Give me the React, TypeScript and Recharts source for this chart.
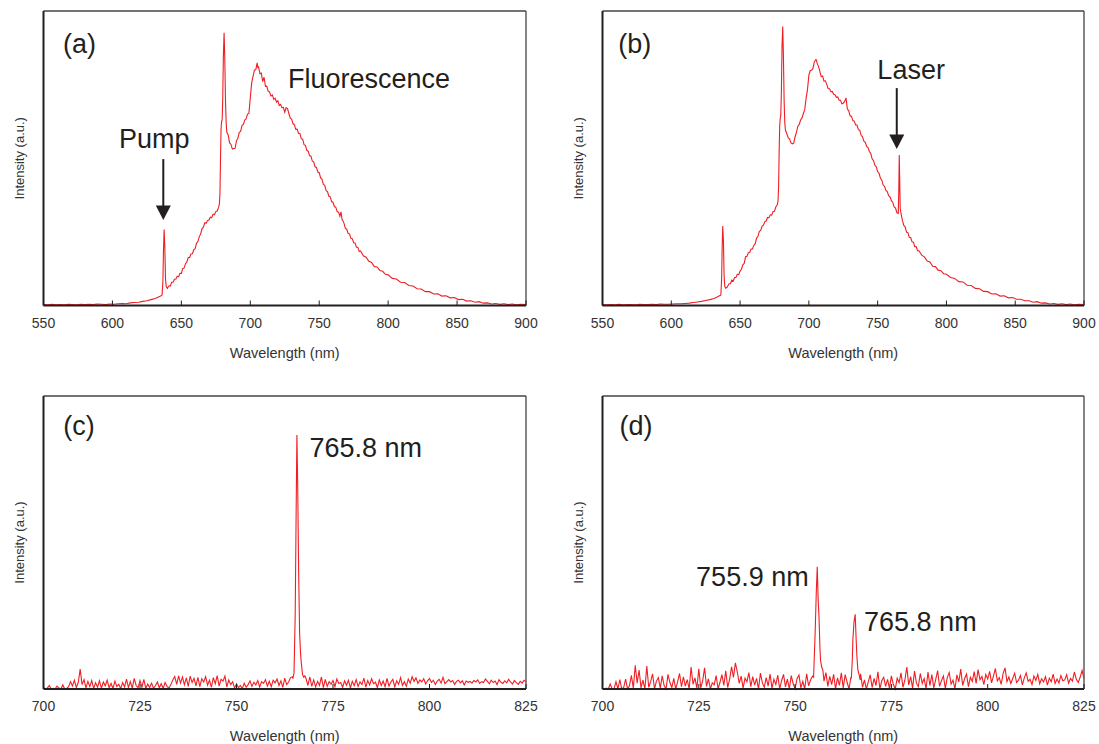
import React from 'react';
import { LineChart, Line, XAxis, YAxis, ReferenceDot, ReferenceLine } from 'recharts';

// tick labels
const TICKS_WIDE = [550, 600, 650, 700, 750, 800, 850, 900];
const TICKS_NARROW = [700, 725, 750, 775, 800, 825];

// (a) full spectrum, pump + fluorescence  [wavelength nm, intensity %]
const SPEC_A: [number, number][] = [
  [550, 0.3], [553, 0.2], [556, 0.4], [559, 0.2], [562, 0.3], [565, 0.2], [568, 0.4], [571, 0.3],
  [574, 0.2], [577, 0.4], [580, 0.3], [583, 0.4], [586, 0.3], [589, 0.5], [592, 0.4], [595, 0.3],
  [598, 0.5], [601, 0.4], [604, 0.6], [607, 0.7], [610, 0.6], [613, 0.9], [616, 1.0], [619, 1.1],
  [622, 1.4], [625, 1.6], [628, 2.0], [631, 2.4], [633, 2.8], [635, 3.2], [636, 3.6], [636.6, 8],
  [637.0, 18], [637.5, 25.8], [638.0, 20], [638.5, 9], [639.0, 6.5], [639.8, 5.8], [641, 6.7], [642, 6.6],
  [643, 7.9], [644, 7.9], [645, 8.9], [646, 9.0], [647, 9.9], [648, 9.8], [649, 10.9], [650, 10.9],
  [651, 12.6], [652, 12.7], [653, 14.2], [654, 14.8], [655, 16.3], [656, 16.3], [657, 17.5], [658, 17.6],
  [659, 18.9], [660, 19.3], [661, 21.1], [662, 21.7], [663, 23.4], [664, 24.3], [665, 26.1], [666, 26.6],
  [667, 28.1], [668, 27.9], [669, 28.9], [670, 29.0], [671, 30.0], [672, 29.8], [673, 31.0], [674, 30.8],
  [675, 31.9], [676, 32.1], [677, 33.3], [677.6, 34.5], [678.0, 38], [678.4, 50], [678.8, 60], [679.2, 62.5],
  [679.6, 63], [680.0, 70], [680.5, 85], [681.0, 92.6], [681.5, 84], [682.0, 70], [682.5, 62], [683.0, 58.8],
  [684, 57.8], [685, 55.2], [686, 54.7], [687, 53.1], [688, 53.3], [689, 53.4], [690, 56.0], [691, 56.8],
  [692, 58.8], [693, 59.1], [694, 61.2], [695, 61.5], [696, 63.0], [697, 63.4], [698, 65.0], [699, 65.2],
  [700, 70.5], [701, 75.6], [702, 77.8], [703, 79.9], [704, 80.1], [705, 82.4], [705.5, 80.8], [706, 81.0],
  [707, 78.7], [708, 78.9], [709, 76.0], [710, 77.5], [711, 74.4], [712, 74.5], [713, 72.7], [714, 72.5],
  [715, 71.1], [716, 71.5], [717, 70.0], [718, 70.4], [719, 69.1], [720, 69.5], [721, 67.9], [722, 68.3],
  [723, 67.1], [724, 67.3], [725, 65.6], [726, 67.2], [727, 66.9], [728, 65.2], [729, 63.6], [730, 63.3],
  [731, 61.7], [732, 61.4], [733, 59.8], [734, 59.9], [735, 58.4], [736, 58.4], [737, 56.6], [738, 56.5],
  [739, 54.6], [740, 54.4], [741, 52.7], [742, 52.4], [743, 50.9], [744, 50.7], [745, 49.0], [746, 48.8],
  [747, 47.1], [748, 46.9], [749, 45.3], [750, 45.1], [751, 43.3], [752, 42.9], [753, 41.1], [754, 40.8],
  [755, 39.0], [756, 38.7], [757, 37.1], [758, 36.9], [759, 35.3], [760, 35.0], [761, 33.6], [762, 33.4],
  [763, 31.9], [764, 31.7], [765, 30.3], [765.8, 31.8], [766.6, 29.1], [767, 28.9], [768, 27.9], [769, 26.2],
  [770, 25.9], [771, 24.4], [772, 24.3], [773, 22.8], [774, 22.7], [775, 21.3], [776, 21.2], [777, 19.8],
  [778, 19.8], [779, 18.3], [780, 18.5], [782, 16.9], [784, 16.4], [786, 15.0], [788, 14.6], [790, 13.2],
  [792, 13.1], [794, 11.9], [796, 11.6], [798, 10.6], [800, 10.4], [803, 9.2], [806, 9.0], [809, 7.9],
  [812, 7.8], [815, 6.8], [818, 6.6], [821, 5.7], [824, 5.6], [827, 4.7], [830, 4.7], [833, 3.9],
  [836, 4.0], [839, 3.2], [842, 3.3], [845, 2.6], [848, 2.7], [851, 2.0], [854, 2.1], [857, 1.5],
  [860, 1.6], [863, 1.1], [866, 1.3], [869, 0.8], [872, 0.9], [875, 0.5], [878, 0.7], [881, 0.4],
  [884, 0.6], [887, 0.3], [890, 0.5], [893, 0.2], [896, 0.4], [900, 0.3],
];

// (b) full spectrum with laser line
const SPEC_B: [number, number][] = [
  [550, 0.3], [553, 0.2], [556, 0.3], [559, 0.2], [562, 0.4], [565, 0.2], [568, 0.3], [571, 0.3],
  [574, 0.2], [577, 0.4], [580, 0.3], [583, 0.3], [586, 0.4], [589, 0.3], [592, 0.5], [595, 0.4],
  [598, 0.4], [601, 0.5], [604, 0.6], [607, 0.6], [610, 0.7], [613, 0.8], [616, 1.0], [619, 1.2],
  [622, 1.4], [625, 1.7], [628, 2.0], [631, 2.4], [633, 2.8], [635, 3.3], [636, 3.5], [636.6, 9],
  [637.0, 20], [637.4, 27], [637.9, 22], [638.4, 10], [638.9, 6.5], [639.5, 5.9], [640.5, 6.2], [642, 7.4],
  [643, 7.4], [644, 8.6], [645, 8.3], [646, 9.5], [647, 9.5], [648, 10.6], [649, 10.5], [650, 11.7],
  [651, 12.3], [652, 13.8], [653, 14.3], [654, 16.6], [655, 16.7], [656, 17.9], [657, 18.0], [658, 19.2],
  [659, 19.2], [660, 20.4], [661, 21.0], [662, 22.9], [663, 23.5], [664, 25.2], [665, 25.5], [666, 27.0],
  [667, 27.3], [668, 28.5], [669, 28.7], [670, 29.9], [671, 29.8], [672, 30.8], [673, 30.7], [674, 31.9],
  [675, 32.0], [676, 33.5], [677, 34.1], [677.6, 35.5], [678.0, 40], [678.4, 52], [678.8, 61], [679.2, 63.5],
  [679.6, 64.8], [680.0, 72], [680.5, 88], [681.0, 94.7], [681.5, 85], [682.0, 70], [682.5, 62], [683.0, 59.5],
  [684, 58.3], [685, 56.9], [686, 56.6], [687, 55.2], [688, 54.9], [689, 55.1], [690, 57.3], [691, 58.9],
  [692, 60.9], [693, 61.5], [694, 63.0], [695, 63.7], [696, 65.2], [697, 66.5], [698, 70.4], [699, 73.2],
  [700, 78.2], [701, 79.8], [702, 79.9], [703, 80.5], [704, 82.7], [705, 83.5], [705.5, 83.4], [706, 82.3],
  [707, 81.2], [708, 79.5], [709, 77.7], [710, 77.9], [711, 76.2], [712, 76.3], [713, 75.1], [714, 73.7],
  [715, 73.6], [716, 72.6], [717, 72.7], [718, 71.7], [719, 71.6], [720, 70.7], [721, 70.8], [722, 69.7],
  [723, 69.7], [724, 68.5], [725, 68.7], [726, 69.3], [727, 70.5], [728, 66.7], [729, 66.1], [730, 64.4],
  [731, 64.2], [732, 62.8], [733, 62.6], [734, 61.3], [735, 61.3], [736, 59.7], [737, 59.5], [738, 57.8],
  [739, 57.3], [740, 55.8], [741, 55.4], [742, 54.0], [743, 53.6], [744, 52.3], [745, 51.6], [746, 49.8],
  [747, 49.2], [748, 47.6], [749, 47.1], [750, 45.5], [751, 44.9], [752, 43.3], [753, 42.6], [754, 40.9],
  [755, 40.5], [756, 39.1], [757, 38.7], [758, 37.3], [759, 36.9], [760, 35.6], [761, 35.0], [762, 33.5],
  [763, 33.1], [764, 31.5], [765.0, 31.3], [765.4, 40], [765.7, 51.1], [766.0, 44], [766.4, 33], [767, 31.2],
  [768, 28.9], [769, 27.2], [770, 26.7], [771, 24.9], [772, 24.7], [773, 23.2], [774, 23.1], [775, 21.6],
  [776, 21.5], [777, 20.0], [778, 20.0], [779, 18.6], [780, 18.6], [782, 17.1], [784, 16.5], [786, 15.1],
  [788, 14.8], [790, 13.3], [792, 13.2], [794, 12.0], [796, 11.8], [798, 10.8], [800, 10.6], [803, 9.5],
  [806, 9.2], [809, 8.1], [812, 8.0], [815, 6.9], [818, 6.8], [821, 5.8], [824, 5.7], [827, 4.8],
  [830, 4.7], [833, 3.9], [836, 4.0], [839, 3.2], [842, 3.3], [845, 2.6], [848, 2.7], [851, 2.1],
  [854, 2.1], [857, 1.6], [860, 1.6], [863, 1.1], [866, 1.3], [869, 0.8], [872, 0.9], [875, 0.5],
  [878, 0.7], [881, 0.4], [884, 0.6], [887, 0.3], [890, 0.5], [893, 0.2], [896, 0.4], [900, 0.3],
];

// (c), (d): noise sampled every 0.5 nm from 700 nm; null where a peak is listed separately
const GRID_START = 700;
const GRID_STEP = 0.5;

const NOISE_C: (number | null)[] = [
  0.5, 0, 0.3, 1.2, 0, 0.2, 0, 1.0, 0.3, 0,
  1.4, 0, 0.2, 0.8, 2.5, 1.0, 3.0, 0.5, 2.2, 6.8,
  1.5, 3.2, 0.4, 2.6, 0.8, 2.9, 0.2, 2.1, 0.6, 2.8,
  0.3, 2.4, 1.1, 3.0, 0.4, 1.9, 0.2, 2.7, 0.9, 1.6,
  0.1, 2.2, 0.7, 3.4, 0.5, 2.5, 0.3, 3.6, 1.2, 0.4,
  2.9, 0.6, 3.3, 0.2, 1.7, 0.5, 2.0, 0.3, 1.1, 2.4,
  0.4, 1.8, 0.2, 2.2, 0.9, 0.3, 1.5, 3.1, 4.3, 1.6,
  4.5, 2.0, 4.1, 1.4, 3.8, 0.9, 4.4, 2.2, 3.6, 1.1,
  4.0, 0.8, 3.5, 2.4, 4.2, 1.3, 3.0, 0.6, 3.9, 1.8,
  4.6, 1.0, 3.3, 2.7, 4.4, 0.7, 3.1, 1.5, 2.5, 0.3,
  1.8, 0.4, 1.2, 0.1, 2.0, 0.6, 1.5, 2.8, 0.9, 2.3,
  1.4, 2.9, 0.7, 2.5, 1.9, 3.2, 1.0, 2.6, 0.8, 3.0,
  2.1, 3.4, 1.2, 2.8, 0.6, 3.7, 1.5, 2.4, 3.9, 4.2,
  null, null, null, null, null, null, 3.6, 1.2, 4.1, 0.9,
  3.1, 0.7, 2.6, 1.2, 4.1, 0.5, 3.3, 0.9, 2.5, 1.6,
  2.9, 0.8, 3.4, 1.9, 2.2, 0.6, 2.8, 1.3, 3.0, 0.4,
  2.6, 1.1, 3.2, 0.9, 2.4, 1.5, 3.7, 0.6, 2.9, 1.4,
  3.5, 1.8, 2.3, 0.5, 3.1, 1.2, 2.7, 0.8, 3.6, 1.0,
  2.4, 3.3, 0.7, 2.8, 1.6, 3.9, 1.2, 2.5, 0.9, 3.4,
  2.0, 4.2, 2.6, 3.8, 1.9, 3.1, 2.4, 3.5, 1.7, 2.8,
  3.6, 2.2, 3.0, 1.5, 2.7, 3.3, 2.0, 4.0, 1.8, 2.5,
  3.2, 2.4, 2.9, 1.6, 2.6, 3.0, 2.1, 2.8, 1.4, 2.7,
  2.3, 2.6, 2.0, 2.9, 2.4, 3.1, 1.9, 2.5, 2.2, 3.4,
  2.6, 1.8, 3.0, 2.2, 2.7, 1.5, 3.2, 2.3, 1.9, 2.8,
  2.1, 3.3, 2.4, 1.7, 2.9, 2.2, 1.6, 2.6, 2.0, 3.0,
  2.5,
];

const PEAK_C: [number, number][] = [
  [764.6, 3.5], [764.9, 5.5], [765.2, 24.7], [765.45, 60], [765.65, 86.7], [765.85, 70], [766.1, 40],
  [766.35, 19], [766.6, 12], [766.8, 8.8], [767.1, 5], [767.4, 4.0], [767.7, 4.5],
];

const NOISE_D: (number | null)[] = [
  0, 0, 0.3, 0, 1.7, 0, 0, 2.5, 0, 3.2,
  0, 0.5, 3.4, 0, 1.1, 4.7, 0.2, 8.1, 2.0, 6.5,
  0.4, 3.0, 0, 7.8, 0.6, 2.5, 5.2, 0, 2.7, 3.9,
  0.3, 4.5, 1.2, 0, 5.0, 2.2, 0.5, 3.6, 0, 2.4,
  5.3, 0.8, 4.1, 1.0, 3.2, 0, 7.5, 1.6, 3.8, 0.2,
  6.9, 0.4, 2.8, 7.2, 0.9, 3.5, 0, 2.1, 1.4, 4.6,
  0, 2.3, 4.9, 1.2, 6.2, 0.5, 3.3, 7.6, 4.0, 8.9,
  5.8, 1.9, 4.4, 0.3, 3.7, 2.5, 5.6, 0.8, 4.2, 1.3,
  3.6, 0, 5.4, 2.1, 0.6, 3.9, 1.0, 5.1, 0.2, 3.3,
  1.5, 4.7, 0, 2.9, 5.0, 0.7, 3.4, 0, 4.6, 1.8,
  0, 3.5, 4.8, 0.4, 2.6, 0, 5.2, 1.1, 3.0, 4.4,
  null, null, null, null, null, 2.7, 5.6, 0.9, 4.3, 1.5,
  5.0, 0, 3.8, 1.2, 5.5, 0.4, 4.9, 2.3, 0, 4.1,
  null, null, null, null, 5.2, 0.6, 3.1, 0, 2.4, 4.8,
  0.5, 3.6, 1.2, 5.9, 0, 2.8, 4.0, 0.9, 3.3, 0.2,
  4.5, 1.6, 0, 3.7, 2.2, 5.5, 0.6, 3.0, 7.5, 1.4,
  4.2, 0.3, 6.1, 2.0, 0.8, 5.3, 1.9, 3.6, 0, 5.8,
  1.1, 4.9, 0.4, 3.2, 6.3, 0.9, 2.8, 4.4, 0.2, 3.9,
  5.6, 1.7, 3.0, 0, 4.8, 2.4, 6.8, 1.2, 3.5, 5.1,
  0.8, 4.0, 2.6, 5.9, 1.9, 6.6, 3.2, 4.3, 1.5, 5.0,
  3.4, 6.0, 2.1, 4.5, 7.0, 2.8, 3.9, 1.6, 5.3, 7.2,
  2.5, 4.1, 1.9, 3.6, 5.4, 2.2, 3.0, 4.6, 1.4, 3.8,
  5.5, 2.6, 3.3, 1.5, 4.4, 2.9, 5.0, 1.8, 3.5, 2.4,
  4.2, 1.3, 3.7, 2.5, 5.1, 1.9, 3.4, 2.1, 4.6, 2.8,
  3.1, 4.9, 2.0, 3.6, 2.7, 5.8, 3.3, 2.2, 4.0, 6.3,
  3.5,
];

const PEAK_D1: [number, number][] = [
  [754.8, 4], [755.2, 19], [755.5, 33], [755.75, 41.7], [756.0, 30], [756.2, 24.7], [756.45, 14],
  [756.6, 9.9], [756.9, 7.5], [757.2, 6.5],
];
const PEAK_D2: [number, number][] = [
  [764.6, 3.5], [764.85, 10], [765.0, 16.9], [765.3, 23], [765.6, 25.5], [765.85, 16.9], [766.05, 11],
  [766.3, 6.5], [766.6, 5.0], [766.9, 3.1],
];

type Row = { x: number; y: number };

const fromPairs = (pairs: [number, number][]): Row[] => pairs.map(([x, y]) => ({ x, y }));

function withNoise(noise: (number | null)[], peaks: [number, number][]): Row[] {
  const rows: Row[] = [];
  noise.forEach((v, i) => {
    if (v !== null) rows.push({ x: GRID_START + i * GRID_STEP, y: v });
  });
  peaks.forEach(([x, y]) => rows.push({ x, y }));
  return rows.sort((a, b) => a.x - b.x);
}

const dataA = fromPairs(SPEC_A);
const dataB = fromPairs(SPEC_B);
const dataC = withNoise(NOISE_C, PEAK_C);
const dataD = withNoise(NOISE_D, [...PEAK_D1, ...PEAK_D2]);

const INK = '#231f20';
const RED = '#f01e23';

type Note = { x: number; y: number; text?: string; size?: number; arrow?: boolean };

const NOTES_A: Note[] = [
  { x: 564.1, y: 85.6, text: '(a)', size: 27 },
  { x: 727.4, y: 73.8, text: 'Fluorescence', size: 27 },
  { x: 604.8, y: 53.4, text: 'Pump', size: 27 },
  { x: 636.9, y: 29.0, arrow: true },
];
const NOTES_B: Note[] = [
  { x: 561.5, y: 85.6, text: '(b)', size: 27 },
  { x: 749.8, y: 76.8, text: 'Laser', size: 27 },
  { x: 763.9, y: 53.1, arrow: true },
];
const NOTES_C: Note[] = [
  { x: 705.1, y: 86.7, text: '(c)', size: 27 },
  { x: 768.9, y: 79.3, text: '765.8 nm', size: 27 },
];
const NOTES_D: Note[] = [
  { x: 704.4, y: 86.7, text: '(d)', size: 27 },
  { x: 724.3, y: 35.2, text: '755.9 nm', size: 27 },
  { x: 767.9, y: 19.9, text: '765.8 nm', size: 27 },
];

function noteShape(note: Note) {
  return (p: any) => {
    const { cx, cy } = p;
    if (note.arrow) {
      return (
        <g>
          <line x1={cx} y1={cy - 61} x2={cx} y2={cy - 13} stroke={INK} strokeWidth={2} />
          <polygon points={`${cx - 7.5},${cy - 14.5} ${cx + 7.5},${cy - 14.5} ${cx},${cy}`} fill={INK} />
        </g>
      );
    }
    return (
      <text x={cx} y={cy} fontSize={note.size} fill={INK}>
        {note.text}
      </text>
    );
  };
}

const yTitle = (props: any) => {
  const vb = props.viewBox;
  const cx = vb.x + 19;
  const cy = vb.y + vb.height / 2;
  return (
    <text x={cx} y={cy} transform={`rotate(-90 ${cx} ${cy})`} textAnchor="middle" dominantBaseline="central" fontSize={13} fill="#333">
      Intensity (a.u.)
    </text>
  );
};

type PanelProps = {
  left: number;
  top: number;
  height: number;
  right: number;
  bottom: number;
  data: Row[];
  domain: [number, number];
  ticks: number[];
  notes: Note[];
};

function Panel({ left, top, height, right, bottom, data, domain, ticks, notes }: PanelProps) {
  return (
    <div style={{ position: 'absolute', left, top }}>
      <LineChart width={540} height={height} data={data} margin={{ top: 11, right, left: 0, bottom }}>
        <XAxis
          dataKey="x"
          type="number"
          domain={domain}
          ticks={ticks}
          interval={0}
          height={30}
          tickSize={-5}
          tickMargin={17.5}
          axisLine={{ stroke: INK, strokeWidth: 2 }}
          tickLine={{ stroke: INK, strokeWidth: 1 }}
          tick={{ fill: '#333', fontSize: 14 }}
          label={{ value: 'Wavelength (nm)', position: 'bottom', offset: 12, fill: '#333', fontSize: 14.5 }}
        />
        <YAxis
          domain={[0, 100]}
          width={43.5}
          tick={false}
          tickLine={false}
          axisLine={{ stroke: INK, strokeWidth: 2 }}
          label={{ content: yTitle }}
        />
        {/* top and right frame */}
        <ReferenceLine y={100} stroke="#444" strokeWidth={1.3} />
        <ReferenceLine x={domain[1]} stroke="#444" strokeWidth={1.3} />
        <Line dataKey="y" stroke={RED} strokeWidth={1.1} dot={false} isAnimationActive={false} />
        {notes.map((n, i) => (
          <ReferenceDot key={i} x={n.x} y={n.y} r={1} ifOverflow="visible" shape={noteShape(n)} />
        ))}
      </LineChart>
    </div>
  );
}

export default function App() {
  return (
    <div
      style={{
        position: 'absolute',
        left: 0,
        top: 0,
        width: 1099,
        height: 744,
        overflow: 'hidden',
        background: '#fff',
        fontFamily: '"Liberation Sans", Arial, sans-serif',
      }}
    >
      <Panel left={0} top={0} height={370} right={14} bottom={34.5} data={dataA} domain={[550, 900]} ticks={TICKS_WIDE} notes={NOTES_A} />
      <Panel left={559} top={0} height={370} right={15} bottom={34.5} data={dataB} domain={[550, 900]} ticks={TICKS_WIDE} notes={NOTES_B} />
      <Panel left={0} top={385} height={359} right={14} bottom={25} data={dataC} domain={[700, 825]} ticks={TICKS_NARROW} notes={NOTES_C} />
      <Panel left={559} top={385} height={359} right={15} bottom={25} data={dataD} domain={[700, 825]} ticks={TICKS_NARROW} notes={NOTES_D} />
    </div>
  );
}
